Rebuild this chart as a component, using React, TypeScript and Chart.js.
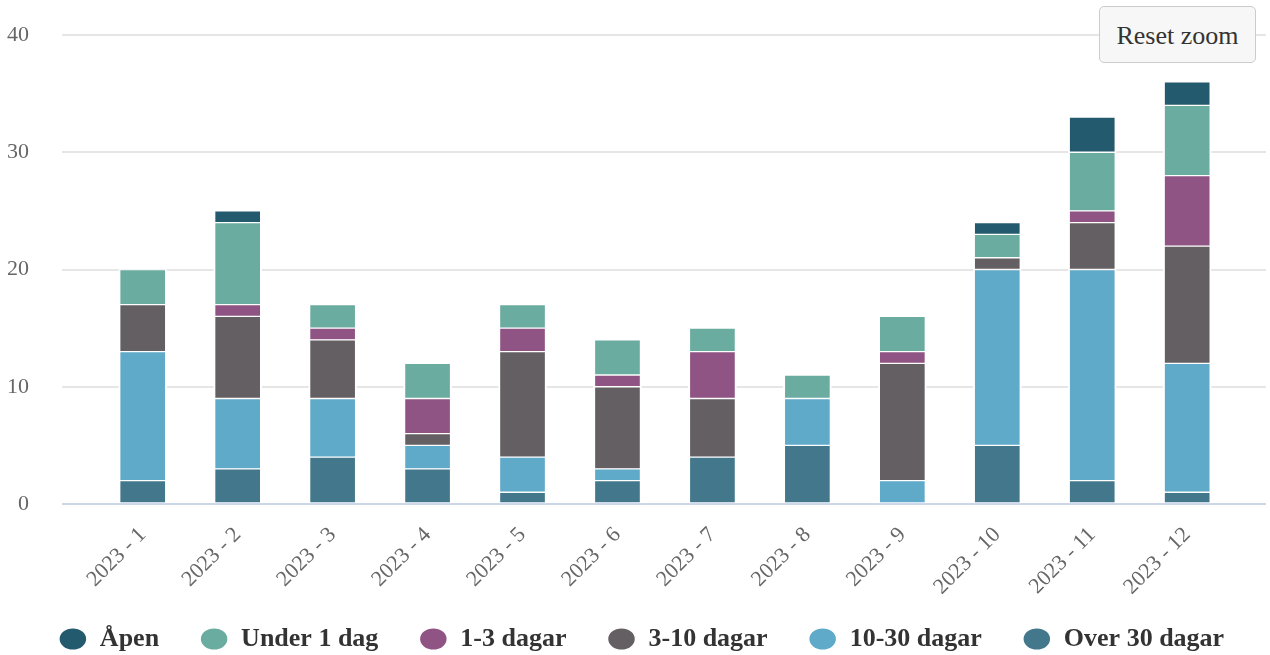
import React, { useEffect, useRef } from "react";
import { Chart, registerables } from "chart.js";

Chart.register(...registerables);

// Month categories along the x axis
const months = [
  "2023 - 1", "2023 - 2", "2023 - 3", "2023 - 4", "2023 - 5", "2023 - 6",
  "2023 - 7", "2023 - 8", "2023 - 9", "2023 - 10", "2023 - 11", "2023 - 12",
];

// Case counts per month, grouped by handling time (stacked bottom to top)
const over30 = [2, 3, 4, 3, 1, 2, 4, 5, 0, 5, 2, 1];
const days10to30 = [11, 6, 5, 2, 3, 1, 0, 4, 2, 15, 18, 11];
const days3to10 = [4, 7, 5, 1, 9, 7, 5, 0, 10, 1, 4, 10];
const days1to3 = [0, 1, 1, 3, 2, 1, 4, 0, 1, 0, 1, 6];
const under1 = [3, 7, 2, 3, 2, 3, 2, 2, 3, 2, 5, 6];
const open = [0, 1, 0, 0, 0, 0, 0, 0, 0, 1, 3, 2];

const yTicks = [0, 10, 20, 30, 40];

const FONT = "'Liberation Serif', 'Times New Roman', serif";

const series = [
  { label: "Over 30 dagar", data: over30, color: "#43778b" },
  { label: "10-30 dagar", data: days10to30, color: "#5fa9c9" },
  { label: "3-10 dagar", data: days3to10, color: "#645f63" },
  { label: "1-3 dagar", data: days1to3, color: "#8f5483" },
  { label: "Under 1 dag", data: under1, color: "#6aac9f" },
  { label: "Åpen", data: open, color: "#245a6e" },
];

export default function App() {
  const canvasRef = useRef<HTMLCanvasElement | null>(null);

  useEffect(() => {
    const canvas = canvasRef.current;
    if (!canvas) return;

    const chart = new Chart(canvas, {
      type: "bar",
      data: {
        datasets: series.map((s) => ({
          label: s.label,
          data: s.data.map((v, i) => ({ x: i, y: v })),
          backgroundColor: s.color,
          borderColor: "#ffffff",
          borderWidth: { top: 1, bottom: 1, left: 2, right: 2 },
          borderSkipped: false,
          barThickness: 48,
        })),
      },
      options: {
        responsive: false,
        animation: false,
        devicePixelRatio: 1,
        layout: { padding: { top: 35, left: 17, right: 4, bottom: 0 } },
        scales: {
          x: {
            type: "linear",
            stacked: true,
            offset: false,
            min: -0.85,
            max: 11.83,
            bounds: "data",
            grid: { display: false },
            border: { display: false },
            afterBuildTicks: (scale: any) => {
              scale.ticks = months.map((_, i) => ({ value: i }));
            },
            ticks: {
              autoSkip: false,
              minRotation: 45,
              maxRotation: 45,
              padding: 10,
              color: "#666666",
              font: { family: FONT, size: 22 },
              callback: (v: any) => months[Math.round(Number(v))] ?? "",
            },
            afterFit: (scale: any) => {
              scale.height = 81;
              scale._computeLabelArea = () => undefined;
            },
          },
          y: {
            stacked: true,
            min: 0,
            max: 40,
            border: { display: false },
            grid: {
              drawTicks: false,
              lineWidth: 2,
              color: (ctx: any) => (ctx.tick && ctx.tick.value === 0 ? "#ccd6eb" : "#e6e6e6"),
            },
            ticks: {
              stepSize: 10,
              padding: 33,
              color: "#666666",
              font: { family: FONT, size: 22 },
              callback: (v: any) => (yTicks.includes(Number(v)) ? String(v) : ""),
            },
            afterFit: (scale: any) => {
              scale.width = 45;
              scale.paddingTop = 12;
              scale.paddingBottom = 12;
              scale._computeLabelArea = () => undefined;
            },
          },
        },
        plugins: {
          tooltip: { enabled: false },
          legend: {
            position: "bottom",
            reverse: true,
            maxHeight: 70,
            labels: {
              usePointStyle: true,
              pointStyle: "circle",
              pointStyleWidth: 28,
              boxHeight: 16,
              padding: 41,
              color: "#333333",
              font: { family: FONT, size: 26, weight: "bold" },
            },
          },
        },
      },
    });

    return () => chart.destroy();
  }, []);

  return (
    <div style={{ position: "absolute", left: 0, top: 0, width: 1270, height: 655, background: "#ffffff" }}>
      <canvas ref={canvasRef} width={1270} height={655} style={{ display: "block", width: 1270, height: 655 }} />
      <button
        type="button"
        style={{
          position: "absolute",
          left: 1099,
          top: 6,
          width: 157,
          height: 57,
          fontFamily: FONT,
          fontSize: 26,
          color: "#333333",
          background: "#f7f7f7",
          border: "1.5px solid #cccccc",
          borderRadius: 5,
          padding: "2px 0 0 0",
          cursor: "pointer",
        }}
      >
        Reset zoom
      </button>
    </div>
  );
}
